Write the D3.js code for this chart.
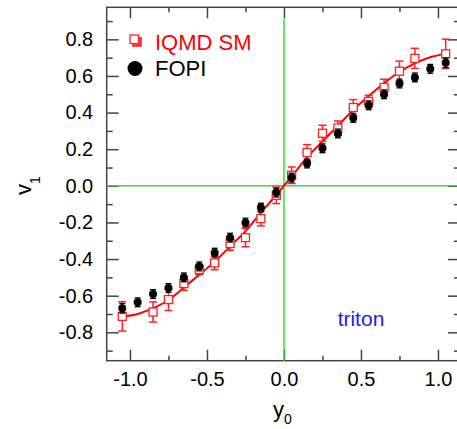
<!DOCTYPE html>
<html><head><meta charset="utf-8">
<script src="https://cdn.jsdelivr.net/npm/d3@7"></script>
<style>body{margin:0;background:#fff}svg{display:block}text{font-family:"Liberation Sans",Arial,sans-serif}</style>
</head><body><svg id="c" width="457" height="429"></svg>
<script>
const rapidity = [-1.05,-0.95,-0.85,-0.75,-0.65,-0.55,-0.45,-0.35,-0.25,-0.15,-0.05,0.05,0.15,0.25,0.35,0.45,0.55,0.65,0.75,0.85,0.95,1.05];
const fopiV1 = [-0.669,-0.636,-0.591,-0.558,-0.500,-0.440,-0.365,-0.283,-0.201,-0.119,-0.037,0.045,0.122,0.205,0.286,0.371,0.440,0.500,0.559,0.592,0.639,0.672];
const fopiErr = [0.026,0.024,0.024,0.024,0.024,0.024,0.024,0.024,0.024,0.024,0.024,0.024,0.024,0.024,0.024,0.024,0.024,0.024,0.024,0.024,0.024,0.026];
const iqmdY = [-1.05,-0.85,-0.75,-0.65,-0.55,-0.45,-0.35,-0.25,-0.15,-0.05,0.05,0.15,0.25,0.35,0.45,0.55,0.65,0.75,0.85,1.05];
const iqmdV1 = [-0.713,-0.689,-0.621,-0.534,-0.457,-0.421,-0.315,-0.283,-0.179,-0.052,0.058,0.182,0.287,0.316,0.428,0.462,0.537,0.626,0.696,0.721];
const iqmdErr = [0.080,0.055,0.060,0.037,0.028,0.037,0.037,0.050,0.040,0.045,0.045,0.043,0.044,0.038,0.043,0.033,0.045,0.055,0.055,0.080];
const fitY = [-1.05,-0.95,-0.85,-0.75,-0.65,-0.55,-0.45,-0.35,-0.25,-0.15,-0.05,0.05,0.15,0.25,0.35,0.45,0.55,0.65,0.75,0.85,0.95,1.05];
const fitV1 = [-0.715,-0.700,-0.668,-0.625,-0.556,-0.486,-0.414,-0.331,-0.247,-0.147,-0.050,0.052,0.155,0.243,0.328,0.414,0.490,0.560,0.623,0.669,0.702,0.722];
const xMajor = [-1,-0.5,0,0.5,1];
const xLabels = ["-1.0","-0.5","0.0","0.5","1.0"];
const xMinor = [-0.75,-0.25,0.25,0.75];
const yMajor = [-0.8,-0.6,-0.4,-0.2,0,0.2,0.4,0.6,0.8];
const yLabels = ["-0.8","-0.6","-0.4","-0.2","0.0","0.2","0.4","0.6","0.8"];
const yMinor = [-0.9,-0.7,-0.5,-0.3,-0.1,0.1,0.3,0.5,0.7,0.9];

const svg = d3.select("#c");
const L=106.7, R=460, T=7.3, B=360.7;
const x = d3.scaleLinear().domain([-1.151,1.143]).range([L,R]);
const y = d3.scaleLinear().domain([-0.955,0.975]).range([B,T]);
const axisCol = "#444";

function styleAxis(g){ g.select(".domain").remove(); g.selectAll(".tick line").attr("stroke",axisCol).attr("stroke-width",1.5); g.selectAll("text").attr("fill","#000").style("font-size","20px").style("font-family",'"Liberation Sans",Arial,sans-serif'); }

// axes
svg.append("g").attr("transform",`translate(0,${B})`).call(d3.axisBottom(x).tickValues(xMajor).tickFormat((d,i)=>xLabels[i]).tickSize(-11).tickPadding(11)).call(styleAxis);
svg.append("g").attr("transform",`translate(0,${B})`).call(d3.axisBottom(x).tickValues(xMinor).tickFormat("").tickSize(-5)).call(styleAxis);
svg.append("g").attr("transform",`translate(0,${T})`).call(d3.axisTop(x).tickValues(xMajor).tickFormat("").tickSize(-11)).call(styleAxis);
svg.append("g").attr("transform",`translate(0,${T})`).call(d3.axisTop(x).tickValues(xMinor).tickFormat("").tickSize(-5)).call(styleAxis);
svg.append("g").attr("transform",`translate(${L},0)`).call(d3.axisLeft(y).tickValues(yMajor).tickFormat((d,i)=>yLabels[i]).tickSize(-12).tickPadding(13.5)).call(styleAxis);
svg.append("g").attr("transform",`translate(${L},0)`).call(d3.axisLeft(y).tickValues(yMinor).tickFormat("").tickSize(-6)).call(styleAxis);
svg.append("g").attr("transform",`translate(${R},0)`).call(d3.axisRight(y).tickValues(yMajor).tickFormat("").tickSize(-12)).call(styleAxis);
svg.append("g").attr("transform",`translate(${R},0)`).call(d3.axisRight(y).tickValues(yMinor).tickFormat("").tickSize(-6)).call(styleAxis);

svg.append("rect").attr("x",L).attr("y",T).attr("width",R-L).attr("height",B-T).attr("fill","none").attr("stroke",axisCol).attr("stroke-width",1.5);

// green reference lines
const green="#33e033";
svg.append("line").attr("x1",x(0)).attr("x2",x(0)).attr("y1",y(0.91)).attr("y2",B).attr("stroke",green).attr("stroke-width",1.5);
svg.append("line").attr("x1",L).attr("x2",R).attr("y1",y(0)).attr("y2",y(0)).attr("stroke",green).attr("stroke-width",1.5);

// fit curve
const fit = fitY.map((d,i)=>[d,fitV1[i]]);
svg.append("path").datum(fit).attr("fill","none").attr("stroke","#ff0000").attr("stroke-width",2)
  .attr("d",d3.line().x(d=>x(d[0])).y(d=>y(d[1])).curve(d3.curveCatmullRom));

// IQMD points
const red="#ff2020";
const iq = iqmdY.map((d,i)=>({x:d,v:iqmdV1[i],e:iqmdErr[i]}));
const gI = svg.append("g");
iq.forEach(d=>{
  const cx=x(d.x), y1=y(d.v+d.e), y2=y(d.v-d.e);
  gI.append("line").attr("x1",cx).attr("x2",cx).attr("y1",y1).attr("y2",y2).attr("stroke",red).attr("stroke-width",1.5);
  gI.append("line").attr("x1",cx-4).attr("x2",cx+4).attr("y1",y1).attr("y2",y1).attr("stroke",red).attr("stroke-width",1.5);
  gI.append("line").attr("x1",cx-4).attr("x2",cx+4).attr("y1",y2).attr("y2",y2).attr("stroke",red).attr("stroke-width",1.5);
  gI.append("rect").attr("x",cx-4).attr("y",y(d.v)-4).attr("width",8).attr("height",8).attr("fill","#fff").attr("stroke",red).attr("stroke-width",1.3);
});

// FOPI points
const fo = rapidity.map((d,i)=>({x:d,v:fopiV1[i],e:fopiErr[i]}));
const gF = svg.append("g");
fo.forEach(d=>{
  const cx=x(d.x), y1=y(d.v+d.e), y2=y(d.v-d.e);
  gF.append("line").attr("x1",cx).attr("x2",cx).attr("y1",y1).attr("y2",y2).attr("stroke","#000").attr("stroke-width",1.5);
  gF.append("line").attr("x1",cx-3).attr("x2",cx+3).attr("y1",y1).attr("y2",y1).attr("stroke","#000").attr("stroke-width",1.3);
  gF.append("line").attr("x1",cx-3).attr("x2",cx+3).attr("y1",y2).attr("y2",y2).attr("stroke","#000").attr("stroke-width",1.3);
  gF.append("circle").attr("cx",cx).attr("cy",y(d.v)).attr("r",4).attr("fill","#000");
});

// legend
const lg = svg.append("g");
lg.append("path").attr("d","M132,45.5 L140.5,45.5 L140.5,37").attr("fill","none").attr("stroke",red).attr("stroke-width",2.5);
lg.append("rect").attr("x",130).attr("y",35).attr("width",8.5).attr("height",8.5).attr("fill","#fff").attr("stroke",red).attr("stroke-width",1.3);
lg.append("text").attr("x",155).attr("y",50).attr("fill","#ff0000").style("font-size","22px").text("IQMD SM");
lg.append("circle").attr("cx",135).attr("cy",68.5).attr("r",7.5).attr("fill","#000");
lg.append("text").attr("x",155).attr("y",76).attr("fill","#000").style("font-size","22px").text("FOPI");

// triton
svg.append("text").attr("x",x(0.5)).attr("y",326).attr("text-anchor","middle").attr("fill","#2020f0").style("font-size","21px").text("triton");

// axis titles
const xt = svg.append("text").attr("x",273).attr("y",416.5).style("font-size","22px").attr("fill","#000");
xt.append("tspan").text("y");
xt.append("tspan").attr("dy",7.5).style("font-size","14px").text("0");
const yt = svg.append("text").attr("transform","translate(30.7,195) rotate(-90)").style("font-size","22px").attr("fill","#000");
yt.append("tspan").text("v");
yt.append("tspan").attr("dy",9).style("font-size","14px").text("1");
</script></body></html>
